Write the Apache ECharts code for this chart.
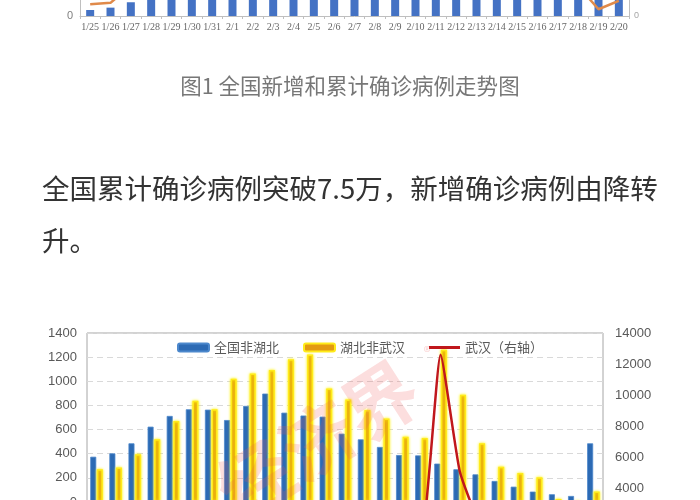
<!DOCTYPE html>
<html><head><meta charset="utf-8">
<script src="https://cdn.jsdelivr.net/npm/echarts@6/dist/echarts.min.js"></script>
<style>html,body{margin:0;padding:0;background:#fff}#c{width:700px;height:500px}</style>
</head><body><div id="c"></div>
<script>
// ---- data ----
const dates = ['1/25','1/26','1/27','1/28','1/29','1/30','1/31','2/1','2/2','2/3','2/4','2/5','2/6','2/7','2/8','2/9','2/10','2/11','2/12','2/13','2/14','2/15','2/16','2/17','2/18','2/19','2/20'];
// top chart (figure 1): cumulative confirmed (bars, left axis) and new confirmed (line, right axis)
const cumulative = [1975,2744,4515,5974,7711,9692,11791,14380,17205,20438,24324,28018,31161,34546,37198,40171,42638,44653,59804,63851,66492,68500,70548,72436,74185,74576,75465];
const newCases = [688,769,1771,1459,1737,1982,2102,2590,2829,3235,3887,3694,3143,3399,2656,3062,2478,2015,15152,5090,2641,2009,2048,1886,1749,394,889];
// bottom chart
const nonHubeiName = '全国非湖北';
const hubeiName = '湖北非武汉';
const wuhanName = '武汉（右轴）';
const nonHubei = [375,403,486,624,713,768,765,679,796,898,740,716,707,566,519,456,389,386,318,271,229,174,127,86,64,50,486];
const hubeiNonWuhan = [272,286,396,520,670,838,768,1022,1064,1094,1182,1222,940,850,762,692,540,530,1262,888,487,292,240,204,25,8,86];
const wuhan = [46,80,892,315,356,378,576,894,1033,1242,1967,1766,1501,1985,1379,1921,1552,1104,12600,5100,1923,1548,1690,1600,1660,615,319];
const leftTicks = [0,1400,200];
const rightTicks = [0,14000,2000];
const captionText = '图1 全国新增和累计确诊病例走势图';
const paraLine1 = '全国累计确诊病例突破7.5万，新增确诊病例由降转';
const paraLine2 = '升。';
const watermarkText = '经济界';

const chart = echarts.init(document.getElementById('c'), null, {renderer:'canvas'});
const cjk = '"Noto Sans CJK SC", "Noto Sans", sans-serif';
const plain = v => String(v);

const option = {
  animation: false,
  backgroundColor: '#ffffff',
  grid: [
    {left: 80, width: 549, top: -258, height: 274, outerBoundsMode: 'none', containLabel: false},
    {left: 87, width: 516, top: 333, height: 169, outerBoundsMode: 'none', containLabel: false, show: true, borderColor: '#a6a6a6', borderWidth: 1, backgroundColor: 'transparent'},
    {left: 87, width: 516, top: 333, height: 217, outerBoundsMode: 'none', containLabel: false}
  ],
  legend: {
    left: 172, top: 336,
    itemWidth: 31, itemHeight: 8, itemGap: 24,
    textStyle: {fontFamily: cjk, fontSize: 13, color: '#595959'},
    data: [nonHubeiName, hubeiName, {name: wuhanName, icon: 'path://M0,0 L31,0 L31,3 L0,3 Z'}]
  },
  xAxis: [
    {type: 'category', gridIndex: 0, data: dates,
     axisLine: {lineStyle: {color: '#bfbfbf'}},
     axisTick: {show: true, length: 3, lineStyle: {color: '#bfbfbf'}},
     axisLabel: {fontFamily: '"Liberation Serif", serif', fontSize: 10, color: '#666666', margin: 6, interval: 0}},
    {type: 'category', gridIndex: 1, data: dates, axisLabel: {show: false}, axisTick: {show: false}, axisLine: {lineStyle: {color: '#a6a6a6'}}},
    {type: 'category', gridIndex: 2, data: dates, show: false}
  ],
  yAxis: [
    {type: 'value', gridIndex: 0, min: 0, max: 90000, interval: 10000,
     axisLine: {show: true, lineStyle: {color: '#bfbfbf'}}, splitLine: {show: false},
     axisLabel: {fontFamily: '"Liberation Sans", sans-serif', fontSize: 11, color: '#7f7f7f', margin: 7, formatter: plain}},
    {type: 'value', gridIndex: 0, min: 0, max: 16000, interval: 2000, position: 'right',
     axisLine: {show: true, lineStyle: {color: '#bfbfbf'}}, splitLine: {show: false},
     axisLabel: {fontFamily: '"Liberation Sans", sans-serif', fontSize: 9, color: '#a6a6a6', margin: 5, formatter: plain}},
    {type: 'value', gridIndex: 1, min: leftTicks[0], max: leftTicks[1], interval: leftTicks[2],
     axisLine: {show: false}, axisTick: {show: false},
     splitLine: {show: true, lineStyle: {color: '#d9d9d9', type: [6, 4], width: 1}},
     axisLabel: {fontFamily: '"Liberation Sans", sans-serif', fontSize: 13, color: '#595959', margin: 10, formatter: plain}},
    {type: 'value', gridIndex: 2, min: rightTicks[0], max: rightTicks[1], interval: rightTicks[2], position: 'right',
     axisLine: {show: false}, axisTick: {show: false}, splitLine: {show: false},
     axisLabel: {fontFamily: '"Liberation Sans", sans-serif', fontSize: 13, color: '#595959', margin: 12, formatter: plain}}
  ],
  series: [
    {type: 'bar', name: '累计确诊', xAxisIndex: 0, yAxisIndex: 0, data: cumulative, barWidth: 8,
     itemStyle: {color: '#4472C4'}},
    {type: 'line', name: '新增确诊', xAxisIndex: 0, yAxisIndex: 1, data: newCases, symbol: 'none',
     lineStyle: {color: '#E08A4A', width: 2.5}},
    {type: 'bar', name: nonHubeiName, xAxisIndex: 1, yAxisIndex: 2, data: nonHubei, barWidth: 6, barGap: '10%',
     itemStyle: {color: '#2C6AB4', borderColor: '#4C88CC', borderWidth: 0.8}},
    {type: 'bar', name: hubeiName, xAxisIndex: 1, yAxisIndex: 2, data: hubeiNonWuhan, barWidth: 6,
     itemStyle: {color: '#E39A12', borderColor: '#FFEB1A', borderWidth: 1.5, shadowBlur: 3, shadowColor: '#FFF200'}},
    {type: 'line', name: wuhanName, xAxisIndex: 2, yAxisIndex: 3, data: wuhan, symbol: 'none', smooth: 0.15,
     lineStyle: {color: '#C0171C', width: 2.5}, itemStyle: {color: '#C0171C'}, z: 5}
  ],
  graphic: [
    {type: 'text', x: 350, y: 86, style: {text: captionText, font: '21.5px ' + cjk, fill: '#777777', textAlign: 'center', textVerticalAlign: 'middle'}},
    {type: 'text', x: 42, y: 189, style: {text: paraLine1, font: '27.5px ' + cjk, fill: '#333333', textAlign: 'left', textVerticalAlign: 'middle'}},
    {type: 'text', x: 42, y: 241, style: {text: paraLine2, font: '27.5px ' + cjk, fill: '#333333', textAlign: 'left', textVerticalAlign: 'middle'}},
    {type: 'text', x: 318, y: 440, rotation: 0.57, z: 100, silent: true,
     style: {text: watermarkText, font: 'bold 74px ' + cjk, fill: 'rgba(240,90,90,0.2)', textAlign: 'center', textVerticalAlign: 'middle'}},
    {type: 'text', x: 427, y: 352, z: 100, silent: true,
     style: {text: '®', font: '14px ' + cjk, fill: 'rgba(240,90,90,0.3)', textAlign: 'center', textVerticalAlign: 'middle'}}
  ]
};
chart.setOption(option);
</script>
</body></html>
